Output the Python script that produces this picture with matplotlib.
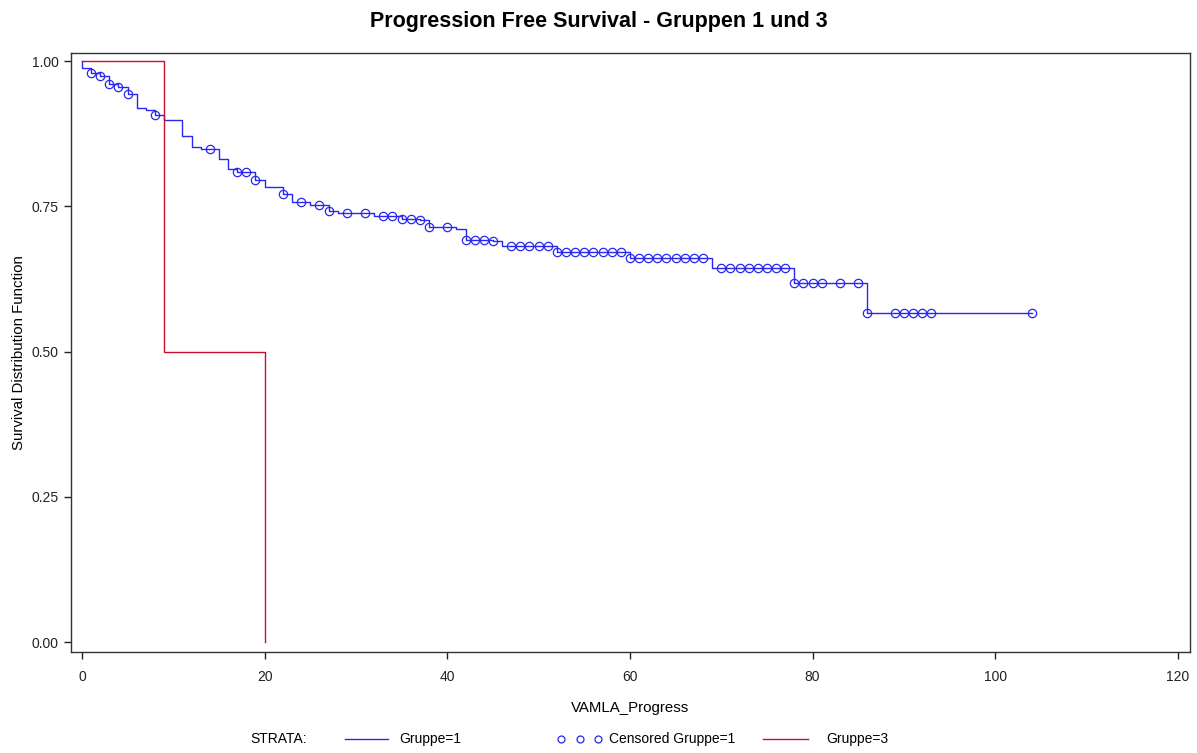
import numpy as np
import matplotlib
matplotlib.use("Agg")
import matplotlib.pyplot as plt
from matplotlib.lines import Line2D

plt.rcParams['font.family'] = ['Liberation Sans', 'DejaVu Sans']

# Gruppe=1: Ereigniszeiten und Überlebenswerte nach dem Schritt
g1_time = [0, 1, 2, 3, 4, 5, 6, 7, 8, 9, 11, 12, 13, 15, 16, 17, 19, 20, 22, 23,
           25, 27, 28, 32, 35, 37, 38, 41, 42, 45, 46, 52, 60, 69, 78, 86]
g1_surv = [0.989, 0.979, 0.974, 0.960, 0.955, 0.943, 0.920, 0.916, 0.907, 0.898,
           0.871, 0.853, 0.848, 0.831, 0.815, 0.809, 0.795, 0.783, 0.772, 0.758,
           0.752, 0.742, 0.739, 0.733, 0.729, 0.726, 0.715, 0.711, 0.693, 0.690,
           0.682, 0.672, 0.662, 0.644, 0.618, 0.567]
g1_end = 104

# Gruppe=1: zensierte Beobachtungen
g1_cens = [1, 2, 3, 4, 5, 8, 14, 17, 18, 19, 22, 24, 26, 27, 29, 31, 33, 34, 35,
           36, 37, 38, 40, 42, 43, 44, 45, 47, 48, 49, 50, 51, 52, 53, 54, 55, 56,
           57, 58, 59, 60, 61, 62, 63, 64, 65, 66, 67, 68, 70, 71, 72, 73, 74, 75,
           76, 77, 78, 79, 80, 81, 83, 85, 86, 89, 90, 91, 92, 93, 104]

# Gruppe=3
g3_time = [9, 20]
g3_surv = [0.5, 0.0]

BLUE = '#2828f0'
RED = '#c8102e'


def step_xy(times, surv, end=None):
    x = [0.0] + list(times)
    y = [1.0] + list(surv)
    if end is not None:
        x.append(end)
        y.append(y[-1])
    return x, y


def surv_at(t, times, surv):
    idx = np.searchsorted(times, t, side='right') - 1
    return 1.0 if idx < 0 else surv[idx]


fig = plt.figure(figsize=(11.97, 7.53), dpi=100)
ax = fig.add_axes([0.0593, 0.134, 0.9347, 0.7956])

x1, y1 = step_xy(g1_time, g1_surv, g1_end)
ax.step(x1, y1, where='post', color=BLUE, lw=1.0)
cy = [surv_at(t, g1_time, g1_surv) for t in g1_cens]
ax.plot(g1_cens, cy, ls='none', marker='o', ms=6, mfc='none', mec=BLUE, mew=0.9)

x3, y3 = step_xy(g3_time, g3_surv)
ax.step(x3, y3, where='post', color=RED, lw=1.0)

ax.set_xlim(-1.2, 121.3)
ax.set_ylim(-0.017, 1.014)
ax.set_xticks(range(0, 121, 20))
ax.set_yticks([0, 0.25, 0.5, 0.75, 1.0])
ax.set_yticklabels(['0.00', '0.25', '0.50', '0.75', '1.00'])
ax.tick_params(direction='out', length=5, width=1, labelsize=10, colors='#222222', pad=4)
ax.tick_params(axis='x', pad=8)
for s in ax.spines.values():
    s.set_color('#333333')
    s.set_linewidth(1.0)

ax.set_xlabel('VAMLA_Progress', fontsize=10.8, labelpad=12)
ax.set_ylabel('Survival Distribution Function', fontsize=10.8, labelpad=3.5)

fig.text(0.5, 0.972, 'Progression Free Survival - Gruppen 1 und 3',
         ha='center', va='center', fontsize=15.5, fontweight='bold')

# Legende unten
ly = 1 - 739 / 753
W = 1197
fig.text(250 / W, ly, 'STRATA:', ha='left', va='center', fontsize=10)
fig.add_artist(Line2D([345 / W, 388 / W], [ly, ly], color=BLUE, lw=1.0))
fig.text(399 / W, ly, 'Gruppe=1', ha='left', va='center', fontsize=10)
fig.add_artist(Line2D([561 / W, 580 / W, 598 / W], [ly] * 3, ls='none', marker='o',
                      ms=5, mfc='none', mec=BLUE, mew=0.9))
fig.text(609 / W, ly, 'Censored Gruppe=1', ha='left', va='center', fontsize=10)
fig.add_artist(Line2D([763 / W, 808 / W], [ly, ly], color=RED, lw=1.0))
fig.text(826 / W, ly, 'Gruppe=3', ha='left', va='center', fontsize=10)

fig.savefig('out.png', dpi=100)
